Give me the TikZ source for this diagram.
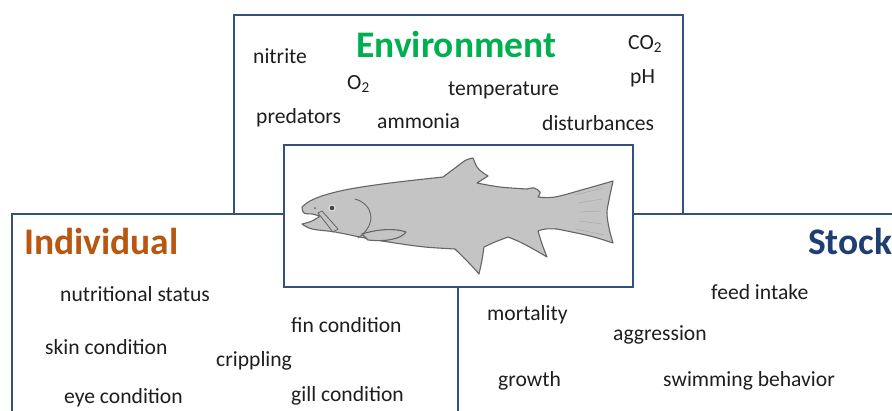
\documentclass[tikz,border=0pt]{standalone}
\usepackage{fontspec}
\setmainfont{Carlito}
\definecolor{boxline}{HTML}{34507F}
\definecolor{envgreen}{HTML}{00B050}
\definecolor{indorange}{HTML}{B9560F}
\definecolor{stockblue}{HTML}{1F3F73}
\definecolor{fishgray}{HTML}{C4C4C4}
\definecolor{fishline}{HTML}{656565}
\definecolor{itemtext}{HTML}{1E1E1E}
\begin{document}
\begin{tikzpicture}[x=1pt,y=-1pt,
  panel/.style={draw=boxline, line width=2pt, fill=white},
  title/.style={anchor=base west, inner sep=0pt, font=\fontsize{37.5}{42}\selectfont\bfseries},
  item/.style={anchor=base west, inner sep=0pt, text=itemtext, font=\fontsize{21.6}{26}\selectfont},
  fishbody/.style={fill=fishgray, draw=fishline, line width=1.1pt, line join=round},
  fishmark/.style={draw=fishline, line width=0.9pt, line cap=round},
  tailray/.style={draw=fishline!55, line width=0.5pt},
]
\useasboundingbox (0,0) rectangle (892,410);
\clip (0,0) rectangle (892,410);
\fill[white] (0,0) rectangle (892,410);

% the three panels and the centre frame
\draw[panel] (234,15) rectangle (683,260);
\draw[panel] (12,214) rectangle (458,430);
\draw[panel] (458,214) rectangle (910,430);
\draw[panel] (284,145) rectangle (633,287);

% Environment
\node[title, text=envgreen] (envtitle) at (356,57) {Environment};
\node[item] (nitrite) at (253,63) {nitrite};
\node[item] (co2) at (628,49.5) {CO\textsubscript{2}};
\node[item] (o2) at (347,89.5) {O\textsubscript{2}};
\node[item] (temp) at (448,95) {temperature};
\node[item] (ph) at (630,83) {pH};
\node[item] (pred) at (256,123) {predators};
\node[item] (ammonia) at (377,128.5) {ammonia};
\node[item] (disturb) at (542,130) {disturbances};

% Individual
\node[title, text=indorange] (indtitle) at (24,254) {Individual};
\node[item] (nutri) at (60,301) {nutritional status};
\node[item] (fin) at (291,332) {fin condition};
\node[item] (skin) at (45,354) {skin condition};
\node[item] (crip) at (216,366) {crippling};
\node[item] (eye) at (64,403) {eye condition};
\node[item] (gill) at (291,401.5) {gill condition};

% Stock
\node[title, text=stockblue] (stocktitle) at (808,254) {Stock};
\node[item] (feed) at (711,299) {feed intake};
\node[item] (mort) at (487,320.5) {mortality};
\node[item] (aggr) at (613,340) {aggression};
\node[item] (growth) at (498,386.5) {growth};
\node[item] (swim) at (663,386.5) {swimming behavior};

% trout outline
\filldraw[fishbody]
  plot[smooth, tension=0.6] coordinates {(302,207) (310,201) (325,195) (350,189) (390,183) (443,177)}
  -- plot[smooth, tension=0.5] coordinates {(443,177) (455,168) (466,160) (473,158)}
  -- plot[smooth, tension=0.5] coordinates {(473,158) (477,167) (482,172) (488,176)}
  -- plot[smooth, tension=0.6] coordinates {(477,183) (500,187) (527,189)}
  -- plot[smooth, tension=0.6] coordinates {(527,189) (534,188) (540,192) (538,197)}
  -- plot[smooth, tension=0.6] coordinates {(538,197) (555,197) (585,189) (613,181)}
  -- plot[smooth, tension=0.6] coordinates {(613,181) (609,200) (607,213) (609,228) (613,243)}
  -- plot[smooth, tension=0.6] coordinates {(613,243) (590,236) (557,229)}
  -- plot[smooth, tension=0.6] coordinates {(557,229) (545,229) (538,231)}
  -- plot[smooth, tension=0.5] coordinates {(538,231) (542,244) (547,257)}
  -- plot[smooth, tension=0.5] coordinates {(547,257) (535,250) (520,242) (508,237)}
  -- plot[smooth, tension=0.6] coordinates {(508,237) (495,242) (484,247)}
  -- plot[smooth, tension=0.5] coordinates {(484,247) (482,260) (479,274)}
  -- plot[smooth, tension=0.5] coordinates {(479,274) (470,264) (455,249)}
  -- plot[smooth, tension=0.6] coordinates {(455,249) (425,247) (395,243) (365,238) (335,232) (312,229) (302,224)}
  -- plot[smooth, tension=0.6] coordinates {(302,224) (312,221) (320,216)}
  -- plot[smooth, tension=0.6] coordinates {(320,216) (312,214) (304,213) (302,207)}
  -- cycle;

% tail rays
\draw[tailray] (575,195) -- (603,188);
\draw[tailray] (578,203) -- (602,199);
\draw[tailray] (580,212) -- (601,211);
\draw[tailray] (579,221) -- (602,224);
\draw[tailray] (576,229) -- (604,235);

% gill cover, jaw bone, pectoral fin, eye and nostril
\draw[fishmark] (355,199) .. controls (373,204) and (378,224) .. (358,238);
\filldraw[fishbody, line width=0.8pt] (318,213) -- (322,211) -- (338,229) -- (333,232) -- cycle;
\filldraw[fishbody] (362,234) .. controls (378,229) and (395,228) .. (406,232)
  .. controls (401,239) and (386,242) .. (368,240) -- cycle;
\fill[fishgray!70!white] (332,208) circle (4);
\fill[black!75] (332,208) circle (2.2);
\fill[fishline] (315,208) circle (1);
\end{tikzpicture}
\end{document}
